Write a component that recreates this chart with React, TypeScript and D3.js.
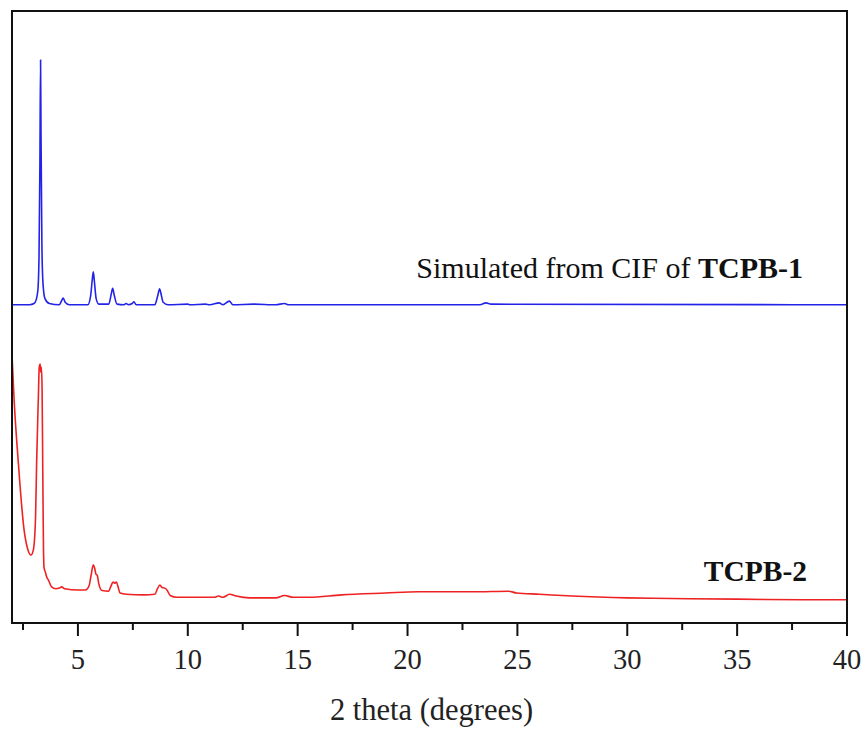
import React from "react";
import { scaleLinear, line, curveMonotoneX } from "d3";

// simulated pattern (blue), [2theta, intensity a.u.]
const simulated: [number, number][] = [
  [2.0, 52.0], [2.8, 52.0], [3.0, 52.2], [3.1, 52.8], [3.18, 54.5], [3.23, 60], [3.27, 75],
  [3.3, 92.0], [3.32, 80], [3.36, 62], [3.41, 55.5], [3.5, 53.0], [3.7, 52.2], [4.15, 52.0],
  [4.25, 52.6], [4.33, 53.1], [4.42, 52.4], [4.6, 52.0], [5.45, 52.0], [5.58, 53.5], [5.65, 56.0],
  [5.7, 57.4], [5.75, 55.8], [5.83, 53.0], [5.95, 52.1], [6.4, 52.1], [6.52, 53.8], [6.58, 54.7],
  [6.65, 53.6], [6.78, 52.1], [7.1, 52.0], [7.19, 52.2], [7.3, 52.0], [7.47, 52.2], [7.55, 52.5],
  [7.65, 52.0], [8.5, 52.0], [8.62, 53.3], [8.72, 54.6], [8.78, 53.8], [8.88, 52.4], [9.1, 52.0],
  [10.0, 52.1], [10.1, 52.0], [10.8, 52.1], [11.0, 52.0], [11.43, 52.3], [11.6, 52.0], [11.89, 52.6],
  [12.05, 52.0], [13.0, 52.1], [14.0, 52.0], [14.4, 52.2], [14.6, 52.0], [23.3, 52.0], [23.57, 52.3],
  [23.8, 52.1], [40, 52.0],
];

// measured pattern (red)
const measured: [number, number][] = [
  [2.0, 43.8], [2.09, 36.9], [2.29, 26.1], [2.55, 15.2], [2.72, 12.0], [2.86, 11.1], [2.97, 11.9],
  [3.07, 17.0], [3.12, 26.1], [3.2, 36.9], [3.24, 41.8], [3.28, 42.3], [3.31, 41.0], [3.34, 41.8],
  [3.37, 38.0], [3.4, 25.0], [3.43, 13.0], [3.46, 9.0], [3.52, 8.3], [3.58, 7.5], [3.66, 7.0],
  [3.8, 5.9], [4.0, 5.6], [4.15, 5.7], [4.26, 5.9], [4.4, 5.6], [5.0, 5.4], [5.35, 5.4], [5.5, 6.0],
  [5.6, 7.8], [5.7, 9.5], [5.76, 9.0], [5.82, 8.0], [5.88, 7.8], [5.95, 6.4], [6.1, 5.3], [6.4, 5.2],
  [6.5, 6.0], [6.6, 6.7], [6.67, 6.5], [6.75, 6.7], [6.82, 6.0], [6.92, 4.9], [7.2, 4.7], [8.0, 4.6],
  [8.5, 4.7], [8.62, 5.6], [8.73, 6.2], [8.83, 5.8], [8.95, 5.7], [9.05, 5.4], [9.2, 4.5], [9.5, 4.2],
  [11.2, 4.2], [11.4, 4.4], [11.6, 4.2], [11.9, 4.7], [12.2, 4.4], [12.8, 4.1], [14.0, 4.1],
  [14.4, 4.5], [14.8, 4.2], [15.5, 4.2], [17, 4.6], [19, 4.9], [20.5, 5.1], [22, 5.1], [23, 5.1],
  [24.6, 5.2], [24.96, 4.9], [26, 4.7], [27.5, 4.4], [30, 4.1], [32, 4.0], [35, 3.9], [38, 3.8],
  [40, 3.8],
];

const majorTicks = [5, 10, 15, 20, 25, 30, 35, 40];
const minorTicks = [2.5, 7.5, 12.5, 17.5, 22.5, 27.5, 32.5, 37.5];

const width = 866;
const height = 729;
const margin = { top: 11, right: 19, bottom: 106, left: 12 };
const innerW = width - margin.left - margin.right;
const innerH = height - margin.top - margin.bottom;

const font = "'Liberation Serif', 'Times New Roman', serif";

export default function App() {
  const x = scaleLinear().domain([2, 40]).range([0, innerW]);
  const y = scaleLinear().domain([0, 100]).range([innerH, 0]);

  const path = line<[number, number]>()
    .x((d) => x(d[0]))
    .y((d) => y(d[1]))
    .curve(curveMonotoneX);

  return (
    <svg
      width={width}
      height={height}
      style={{ position: "absolute", left: 0, top: 0, background: "#fff" }}
    >
      <g transform={`translate(${margin.left}, ${margin.top})`}>
        <path d={path(simulated) || ""} fill="none" stroke="#2323e8" strokeWidth={1.6} />
        <path d={path(measured) || ""} fill="none" stroke="#ee2222" strokeWidth={1.6} />
        <rect x={0} y={0} width={innerW} height={innerH} fill="none" stroke="#111" strokeWidth={2} />

        {majorTicks.map((t) => (
          <g key={t} transform={`translate(${x(t)}, ${innerH})`}>
            <line y2={13} stroke="#111" strokeWidth={2} />
            <text y={46} textAnchor="middle" fontFamily={font} fontSize={28.5} fill="#222">
              {t}
            </text>
          </g>
        ))}
        {minorTicks.map((t) => (
          <line key={t} x1={x(t)} x2={x(t)} y1={innerH} y2={innerH + 7} stroke="#111" strokeWidth={2} />
        ))}

        <text
          x={innerW / 2 + 2}
          y={innerH + 97}
          textAnchor="middle"
          fontFamily={font}
          fontSize={30.5}
          fill="#222"
        >
          2 theta (degrees)
        </text>

        <text x={791} y={267} textAnchor="end" fontFamily={font} fontSize={30} fill="#111">
          Simulated from CIF of <tspan fontWeight="bold">TCPB-1</tspan>
        </text>
        <text x={795} y={570} textAnchor="end" fontFamily={font} fontSize={29.5} fontWeight="bold" fill="#111">
          TCPB-2
        </text>
      </g>
    </svg>
  );
}
